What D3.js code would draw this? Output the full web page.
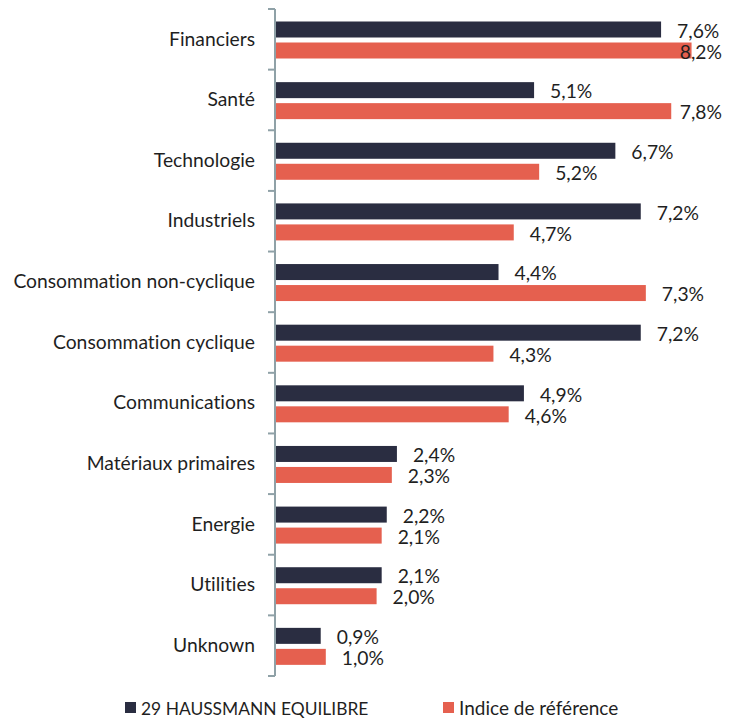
<!DOCTYPE html>
<html>
<head>
<meta charset="utf-8">
<script src="https://cdn.jsdelivr.net/npm/d3@7"></script>
<style>
  html, body { margin: 0; padding: 0; background: #ffffff; }
  svg { display: block; }
  text { font-family: "Lato", "Liberation Sans", sans-serif; fill: #1f1f1f; font-variant-ligatures: none; }
</style>
</head>
<body>
<script>
const categories = ["Financiers", "Santé", "Technologie", "Industriels", "Consommation non-cyclique",
  "Consommation cyclique", "Communications", "Matériaux primaires", "Energie", "Utilities", "Unknown"];
const fundValues = [7.6, 5.1, 6.7, 7.2, 4.4, 7.2, 4.9, 2.4, 2.2, 2.1, 0.9];
const indexValues = [8.2, 7.8, 5.2, 4.7, 7.3, 4.3, 4.6, 2.3, 2.1, 2.0, 1.0];
const seriesNames = ["29 HAUSSMANN EQUILIBRE", "Indice de référence"];
const seriesColors = ["#2a2d41", "#e5604f"];

const W = 732, H = 720;
const axisX = 275;
const svg = d3.select("body").append("svg").attr("width", W).attr("height", H);

const x = d3.scaleLinear().domain([0, 9]).range([axisX, axisX + 9 * 50.8]);
const y = d3.scaleBand().domain(categories).range([9, 676]).paddingInner(0).paddingOuter(0);
const step = y.step();
const barH = 16, barOff = 12.5, barGap = 5;

const fmt = v => v.toFixed(1).replace(".", ",") + "%";
const catSize = 19.3, valSize = 19.3;

// category labels via axis
const yAxis = d3.axisLeft(y).tickSizeInner(0).tickSizeOuter(0).tickPadding(20);
const gAxis = svg.append("g").attr("transform", `translate(${axisX},0)`).call(yAxis);
gAxis.select(".domain").remove();
gAxis.selectAll("text").attr("font-size", catSize).attr("fill", "#1f1f1f")
  .style("font-family", "Lato, sans-serif").style("font-variant-ligatures", "none");

const rows = categories.map((c, i) => ({ c, vals: [fundValues[i], indexValues[i]] }));

// bars
const gBars = svg.append("g");
rows.forEach(r => {
  r.vals.forEach((v, s) => {
    const yy = y(r.c) + barOff + s * (barH + barGap);
    gBars.append("rect")
      .attr("x", x(0)).attr("y", yy)
      .attr("width", x(v) - x(0)).attr("height", barH)
      .attr("fill", seriesColors[s]);
  });
});

// axis line and boundary ticks
const boundaries = d3.range(categories.length + 1).map(i => 9 + i * step);
svg.append("line").attr("x1", axisX).attr("x2", axisX).attr("y1", 9).attr("y2", 676)
  .attr("stroke", "#8fa1a7").attr("stroke-width", 2);
svg.selectAll(".btick").data(boundaries).enter().append("line")
  .attr("x1", axisX - 7).attr("x2", axisX).attr("y1", d => d).attr("y2", d => d)
  .attr("stroke", "#8fa1a7").attr("stroke-width", 2);

// value labels
const gLab = svg.append("g");
rows.forEach(r => {
  r.vals.forEach((v, s) => {
    const yy = y(r.c) + barOff + s * (barH + barGap) + barH / 2;
    const t = gLab.append("text")
      .attr("x", x(v) + 16).attr("y", yy + 1.5)
      .attr("dy", "0.35em")
      .attr("font-size", valSize)
      .text(fmt(v));
    const w = t.node().getComputedTextLength();
    if (x(v) + 16 + w > 722) t.attr("x", 722 - w);
  });
});

// legend
const legendX = [125, 443];
const legendSize = [17.4, 19];
seriesNames.forEach((n, s) => {
  svg.append("rect").attr("x", legendX[s]).attr("y", 702).attr("width", 11).attr("height", 11)
    .attr("fill", seriesColors[s]);
  svg.append("text").attr("x", legendX[s] + 16).attr("y", 714.5)
    .attr("font-size", legendSize[s]).text(n);
});
</script>
</body>
</html>
